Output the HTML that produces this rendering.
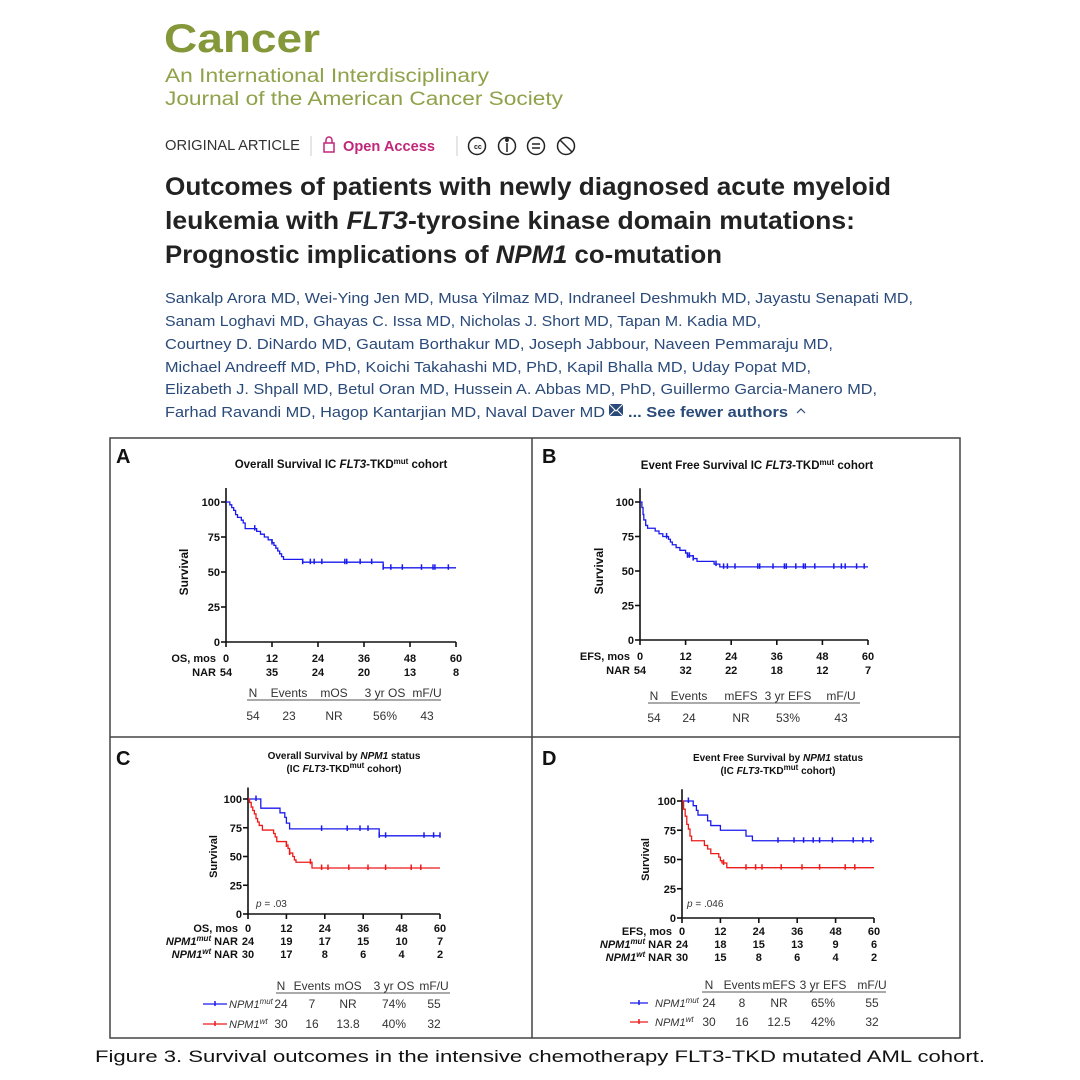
<!DOCTYPE html>
<html><head><meta charset="utf-8"><style>
html,body{margin:0;padding:0;background:#fff;width:1080px;height:1080px;overflow:hidden}
svg{display:block;font-family:"Liberation Sans",Arial,sans-serif}
.tk{font-size:11px;font-weight:bold;fill:#111}
.st{font-size:12px;fill:#333}
</style></head><body>
<svg id="root" width="1080" height="1080" viewBox="0 0 1080 1080">
<g>
<text x="164" y="52" font-size="40" font-weight="bold" fill="#84983a" textLength="156" lengthAdjust="spacingAndGlyphs">Cancer</text>
<text x="165" y="82" font-size="19" fill="#8fa24a" textLength="324" lengthAdjust="spacingAndGlyphs">An International Interdisciplinary</text>
<text x="165" y="105" font-size="19" fill="#8fa24a" textLength="398" lengthAdjust="spacingAndGlyphs">Journal of the American Cancer Society</text>
<text x="165" y="150" font-size="15" fill="#333" textLength="135" lengthAdjust="spacingAndGlyphs">ORIGINAL ARTICLE</text>
<line x1="311" y1="136" x2="311" y2="156" stroke="#ccc"/>
<g><rect x="324" y="143" width="10" height="9" fill="none" stroke="#c0267a" stroke-width="1.5"/><path d="M326 143 v-3 a3 3 0 0 1 6 0 v3" fill="none" stroke="#c0267a" stroke-width="1.5"/></g>
<text x="343" y="151" font-size="15" font-weight="bold" fill="#c0267a" textLength="92" lengthAdjust="spacingAndGlyphs">Open Access</text>
<line x1="457" y1="136" x2="457" y2="156" stroke="#ccc"/>
<g fill="none" stroke="#222" stroke-width="1.5">
<circle cx="477" cy="146" r="8.5"/><circle cx="507" cy="146" r="8.5"/><circle cx="536" cy="146" r="8.5"/><circle cx="566" cy="146" r="8.5"/>
<line x1="532" y1="144" x2="540" y2="144"/><line x1="532" y1="148" x2="540" y2="148"/>
<line x1="507" y1="143" x2="507" y2="152"/><circle cx="507" cy="140" r="1.2" fill="#222"/>
<line x1="560" y1="140" x2="572" y2="152"/>
</g>
<text x="474" y="149" font-size="7" font-weight="bold" fill="#222">cc</text>
<g font-size="25" font-weight="bold" fill="#222">
<text x="165" y="195" textLength="726" lengthAdjust="spacingAndGlyphs">Outcomes of patients with newly diagnosed acute myeloid</text>
<text x="165" y="229" textLength="690" lengthAdjust="spacingAndGlyphs">leukemia with <tspan font-style="italic">FLT3</tspan>-tyrosine kinase domain mutations:</text>
<text x="165" y="263" textLength="557" lengthAdjust="spacingAndGlyphs">Prognostic implications of <tspan font-style="italic">NPM1</tspan> co-mutation</text>
</g>
<g font-size="15" fill="#2a4a7a">
<text x="165" y="303" textLength="748" lengthAdjust="spacingAndGlyphs">Sankalp Arora MD, Wei-Ying Jen MD, Musa Yilmaz MD, Indraneel Deshmukh MD, Jayastu Senapati MD,</text>
<text x="165" y="326" textLength="596" lengthAdjust="spacingAndGlyphs">Sanam Loghavi MD, Ghayas C. Issa MD, Nicholas J. Short MD, Tapan M. Kadia MD,</text>
<text x="165" y="349" textLength="668" lengthAdjust="spacingAndGlyphs">Courtney D. DiNardo MD, Gautam Borthakur MD, Joseph Jabbour, Naveen Pemmaraju MD,</text>
<text x="165" y="372" textLength="646" lengthAdjust="spacingAndGlyphs">Michael Andreeff MD, PhD, Koichi Takahashi MD, PhD, Kapil Bhalla MD, Uday Popat MD,</text>
<text x="165" y="394" textLength="712" lengthAdjust="spacingAndGlyphs">Elizabeth J. Shpall MD, Betul Oran MD, Hussein A. Abbas MD, PhD, Guillermo Garcia-Manero MD,</text>
<text x="165" y="417" textLength="440" lengthAdjust="spacingAndGlyphs">Farhad Ravandi MD, Hagop Kantarjian MD, Naval Daver MD</text>
<rect x="609" y="404" width="14" height="12" fill="#2a4a7a"/>
<path d="M609 404 L616 411 L623 404 M609 416 L615 410 M623 416 L617 410" stroke="#fff" fill="none"/>
<text x="628" y="417" font-weight="bold" textLength="160" lengthAdjust="spacingAndGlyphs">... See fewer authors</text>
<path d="M797 413 l4 -4 l4 4" fill="none" stroke="#2a4a7a" stroke-width="1.2"/>
</g>
</g>
<g stroke="#444" stroke-width="1.5" fill="none">
<rect x="110" y="438" width="850" height="600"/>
<line x1="532" y1="438" x2="532" y2="1038"/>
<line x1="110" y1="737" x2="960" y2="737"/>
</g>
<g id="charts"></g>
<text x="95" y="1062" font-size="17" fill="#111" textLength="890" lengthAdjust="spacingAndGlyphs">Figure 3. Survival outcomes in the intensive chemotherapy FLT3-TKD mutated AML cohort.</text>
</svg>
<script>
const xTicks=[0,12,24,36,48,60];
const yTicks=[0,25,50,75,100];
const osTimes=[1,1.5,2,2.5,3,4,4.5,5,8,9,10,11,12,12.5,13,13.5,14,14.5,15,20,41];
const osSurv=[98,96,94,91,89,87,85,81,79,77,75,73,71,69,67,65,63,61,59,57,53];
const osCens=[7.5,12,20,22,23,25,31,31.5,35,38,41,43,46,51,54,54.5,58];
const osNar=[54,35,24,20,13,8];
const efsTimes=[0.5,0.8,1,1.5,2,4,5,6,7.5,8,8.5,9.5,10.5,12,12.5,14,15,19.5,21];
const efsSurv=[96,91,87,83,81,79,77,75,73,71,69,67,65,63,61,59,57,55,53];
const efsCens=[7,12.5,13,14,20,22,23,25,31,31.5,35,38,38.5,41,43,43.5,46,51,53,54,57,59];
const efsNar=[54,32,22,18,12,7];
const osMutTimes=[4,10,11.5,12,13,41];
const osMutSurv=[92,88,84,79,74,68];
const osMutCens=[2.5,23,31,35,37.5,41,43,55,58,60];
const osWtTimes=[0.5,1,1.5,2,2.5,3,3.5,4.5,8,8.5,9,12,12.5,13,14,14.5,15,20];
const osWtSurv=[97,93,90,87,83,80,77,73,70,67,63,60,57,53,50,47,45,40];
const osWtCens=[12,13,19.5,23,25,31.5,37.5,43,51,54];
const osMutNar=[24,19,17,15,10,7];
const osWtNar=[30,17,8,6,4,2];
const efsMutTimes=[3.5,4.5,5,8,9,12,20,22];
const efsMutSurv=[96,92,88,83,79,75,70,66];
const efsMutCens=[2,30,35,38,41,43,47,53.5,56.5,59];
const efsWtTimes=[0.5,1,1.5,2,2.5,3,7,8,9,11.5,12,12.5,14];
const efsWtSurv=[93,87,80,76,70,66,62,59,55,52,49,47,43];
const efsWtCens=[13,20,23,25,31,37.5,43,51,54];
const efsMutNar=[24,18,15,13,9,6];
const efsWtNar=[30,15,8,6,4,2];
const osStatsHead=["N","Events","mOS","3 yr OS","mF/U"];
const efsStatsHead=["N","Events","mEFS","3 yr EFS","mF/U"];
const osStats=["54","23","NR","56%","43"];
const efsStats=["54","24","NR","53%","43"];
const osMutStats=["24","7","NR","74%","55"];
const osWtStats=["30","16","13.8","40%","32"];
const efsMutStats=["24","8","NR","65%","55"];
const efsWtStats=["30","16","12.5","42%","32"];

const NS="http://www.w3.org/2000/svg";
const root=document.getElementById('charts');
function el(tag,attrs,parent,txt){const e=document.createElementNS(NS,tag);for(const k in attrs)e.setAttribute(k,attrs[k]);if(txt!==undefined)e.textContent=txt;(parent||root).appendChild(e);return e;}
function richText(parent,x,y,parts,attrs){
  const t=el('text',Object.assign({x:x,y:y},attrs),parent);
  parts.forEach(p=>{const s=el('tspan',{},t,p.t);if(p.i)s.setAttribute('font-style','italic');if(p.sup){s.setAttribute('font-size','8');s.setAttribute('dy','-4');}if(p.after){s.setAttribute('dy','4');}});
  return t;
}
function panel(cfg){
  const g=el('g',{});
  
  
  const sx=v=>cfg.x0+(cfg.x60-cfg.x0)*v/60;
  const sy=v=>cfg.y0+(cfg.y100-cfg.y0)*v/100;
  const L=el('text',{x:cfg.lx,y:cfg.ly,'font-size':20,'font-weight':'bold',fill:'#111'},g,cfg.letter);
  
  
  cfg.titles.forEach((parts,i)=>{
    const t=richText(g,cfg.tx,cfg.ty+i*13,parts,{'font-size':cfg.tfs,'font-weight':'bold',fill:'#111','text-anchor':'middle'});
    
    
  });
  const yl=el('text',{x:0,y:0,transform:'translate('+cfg.yx+','+((sy(0)+sy(100))/2)+') rotate(-90)','font-size':cfg.afs,'font-weight':'bold',fill:'#111','text-anchor':'middle'},g,'Survival');
  
  
  const ax=el('g',{stroke:'#111','stroke-width':1.6,fill:'none'},g);
  
  
  el('line',{x1:cfg.x0,y1:sy(0),x2:cfg.x0,y2:sy(110)},ax);
  el('line',{x1:cfg.x0,y1:sy(0),x2:cfg.x60,y2:sy(0)},ax);
  yTicks.forEach(v=>{
    el('line',{x1:cfg.x0-5,y1:sy(v),x2:cfg.x0,y2:sy(v)},ax);
    const t=el('text',{x:cfg.x0-6,y:sy(v)+4,'text-anchor':'end',class:'tk','font-size':cfg.fs},g,String(v));
    
    
  });
  xTicks.forEach((v,i)=>{
    el('line',{x1:sx(v),y1:sy(0),x2:sx(v),y2:sy(0)+5},ax);
    const t=el('text',{x:sx(v),y:cfg.rowY[0],'text-anchor':'middle',class:'tk','font-size':cfg.fs},g,String(v));
    
    
    cfg.nars.forEach((arr,j)=>{
      const n=el('text',{x:sx(v),y:cfg.rowY[j+1],'text-anchor':'middle',class:'tk','font-size':cfg.fs},g,String(arr[i]));
      
      
    });
  });
  cfg.rowLabels.forEach((parts,j)=>{
    const t=richText(g,cfg.x0-10,cfg.rowY[j],parts,{'text-anchor':'end',class:'tk','font-size':cfg.fs});
    
    
  });
  cfg.series.forEach(s=>{
    let d='M'+sx(0)+' '+sy(100);
    s.times.forEach((t,i)=>{d+=' H'+sx(t)+' V'+sy(s.surv[i]);});
    d+=' H'+sx(60);
    const p=el('path',{d:d,fill:'none',stroke:s.color,'stroke-width':1.3},g);
    
    
    s.cens.forEach(c=>{
      let v=100;s.times.forEach((t,i)=>{if(t<=c)v=s.surv[i];});
      const m=el('line',{x1:sx(c),y1:sy(v)-3.5,x2:sx(c),y2:sy(v)+2,stroke:s.color,'stroke-width':1.5},g);
      
      
    });
  });
  if(cfg.p){
    const pt=el('text',{x:cfg.p.x,y:cfg.p.y,'font-size':10,fill:'#333'},g);
    el('tspan',{'font-style':'italic'},pt,'p');
    el('tspan',{},pt,' = '+cfg.p.v);
    
    
  }
  const tb=el('g',{},g);
  
  
  cfg.head.forEach((h,i)=>{el('text',{x:cfg.cols[i],y:cfg.hy,'text-anchor':'middle',class:'st'},tb,h);});
  el('line',{x1:cfg.ul[0],y1:cfg.hy+3,x2:cfg.ul[1],y2:cfg.hy+3,stroke:'#555','stroke-width':1},tb);
  cfg.rows.forEach((r,j)=>{
    r.vals.forEach((v,i)=>{el('text',{x:cfg.cols[i],y:r.y,'text-anchor':'middle',class:'st'},tb,v);});
    if(r.leg){
      const lg=el('g',{},tb);
      
      
      el('line',{x1:r.leg.x1,y1:r.y-4,x2:r.leg.x2,y2:r.y-4,stroke:r.leg.c,'stroke-width':1.3},lg);
      el('line',{x1:(r.leg.x1+r.leg.x2)/2,y1:r.y-7,x2:(r.leg.x1+r.leg.x2)/2,y2:r.y-2,stroke:r.leg.c,'stroke-width':1.5},lg);
      richText(lg,r.leg.tx,r.y,[{t:'NPM1',i:true},{t:r.leg.sup,i:true,sup:true}],{'font-size':11,fill:'#333'});
    }
  });
}
function cohortLine(){return [{t:'(IC '},{t:'FLT3',i:true},{t:'-TKD'},{t:'mut',sup:true},{t:' cohort)',after:true}];}
const titleA=[[{t:'Overall Survival IC '},{t:'FLT3',i:true},{t:'-TKD'},{t:'mut',sup:true},{t:' cohort',after:true}]];
const titleB=[[{t:'Event Free Survival IC '},{t:'FLT3',i:true},{t:'-TKD'},{t:'mut',sup:true},{t:' cohort',after:true}]];
function safe(f){try{f();}catch(e){console.log(e);}}
safe(()=>panel({name:'panel-a-os',letter:'A',lx:116,ly:463,tx:341,ty:468,tfs:11.5,titles:titleA,x0:226,x60:456,y0:642,y100:502,yx:188,afs:12,fs:11,
  rowY:[662,676],nars:[osNar],rowLabels:[[{t:'OS, mos'}],[{t:'NAR'}]],
  series:[{name:'os',times:osTimes,surv:osSurv,cens:osCens,color:'#1a1aee'}],
  head:osStatsHead,cols:[253,289,334,385,427],hy:697,ul:[247,441],rows:[{y:720,vals:osStats}]}));
safe(()=>panel({name:'panel-b-efs',letter:'B',lx:542,ly:463,tx:757,ty:469,tfs:11.5,titles:titleB,x0:640,x60:868,y0:640,y100:502,yx:603,afs:12,fs:11,
  rowY:[660,674],nars:[efsNar],rowLabels:[[{t:'EFS, mos'}],[{t:'NAR'}]],
  series:[{name:'efs',times:efsTimes,surv:efsSurv,cens:efsCens,color:'#1a1aee'}],
  head:efsStatsHead,cols:[654,689,741,788,841],hy:700,ul:[648,860],rows:[{y:722,vals:efsStats}]}));
safe(()=>panel({name:'panel-c-os-npm1',letter:'C',lx:116,ly:765,tx:344,ty:759,tfs:10,
  titles:[[{t:'Overall Survival by '},{t:'NPM1',i:true},{t:' status'}],cohortLine()],
  x0:248,x60:440,y0:914,y100:799,yx:217,afs:11,fs:10,
  rowY:[932,945,958],nars:[osMutNar,osWtNar],
  rowLabels:[[{t:'OS, mos'}],[{t:'NPM1',i:true},{t:'mut',i:true,sup:true},{t:' NAR',after:true}],[{t:'NPM1',i:true},{t:'wt',i:true,sup:true},{t:' NAR',after:true}]],
  series:[{name:'npm1-mut',times:osMutTimes,surv:osMutSurv,cens:osMutCens,color:'#1a1aee'},{name:'npm1-wt',times:osWtTimes,surv:osWtSurv,cens:osWtCens,color:'#ee1a1a'}],
  p:{x:256,y:907,v:'.03'},
  head:osStatsHead,cols:[281,312,348,394,434],hy:990,ul:[276,450],
  rows:[{y:1008,vals:osMutStats,leg:{x1:203,x2:227,c:'#1a1aee',tx:229,sup:'mut'}},{y:1028,vals:osWtStats,leg:{x1:203,x2:227,c:'#ee1a1a',tx:229,sup:'wt'}}]}));
safe(()=>panel({name:'panel-d-efs-npm1',letter:'D',lx:542,ly:765,tx:778,ty:761,tfs:10,
  titles:[[{t:'Event Free Survival by '},{t:'NPM1',i:true},{t:' status'}],cohortLine()],
  x0:682,x60:874,y0:918,y100:801,yx:649,afs:11,fs:10,
  rowY:[935,948,961],nars:[efsMutNar,efsWtNar],
  rowLabels:[[{t:'EFS, mos'}],[{t:'NPM1',i:true},{t:'mut',i:true,sup:true},{t:' NAR',after:true}],[{t:'NPM1',i:true},{t:'wt',i:true,sup:true},{t:' NAR',after:true}]],
  series:[{name:'npm1-mut',times:efsMutTimes,surv:efsMutSurv,cens:efsMutCens,color:'#1a1aee'},{name:'npm1-wt',times:efsWtTimes,surv:efsWtSurv,cens:efsWtCens,color:'#ee1a1a'}],
  p:{x:687,y:907,v:'.046'},
  head:efsStatsHead,cols:[709,742,779,823,872],hy:989,ul:[702,886],
  rows:[{y:1007,vals:efsMutStats,leg:{x1:630,x2:648,c:'#1a1aee',tx:655,sup:'mut'}},{y:1026,vals:efsWtStats,leg:{x1:630,x2:648,c:'#ee1a1a',tx:655,sup:'wt'}}]}));
</script>
</body></html>
